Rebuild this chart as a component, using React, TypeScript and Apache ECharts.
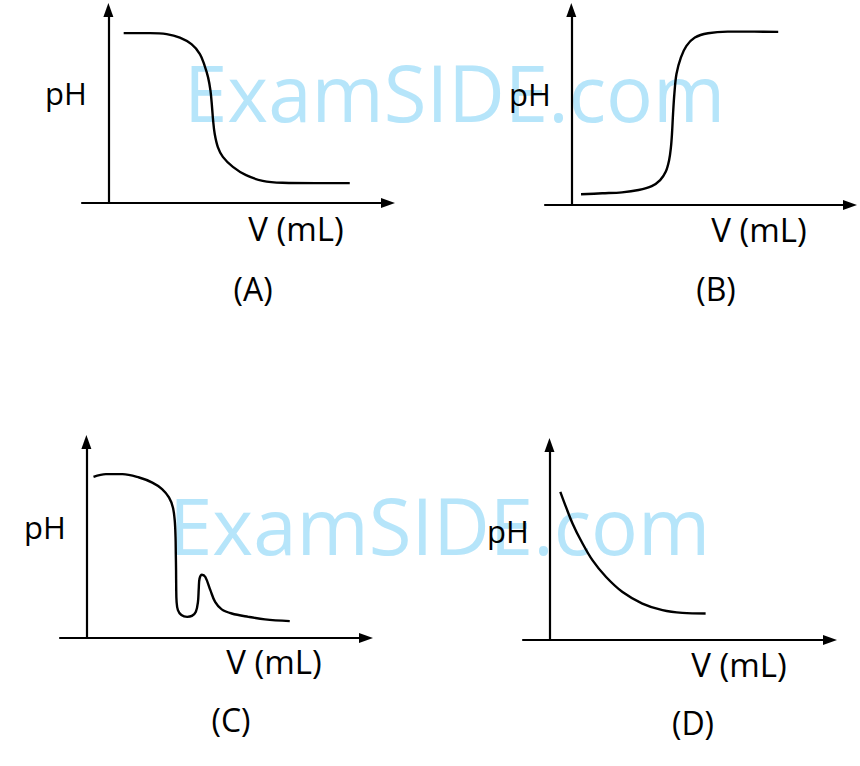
import React, { useEffect, useRef } from "react";
import * as echarts from "echarts";

// Titration curves (arbitrary units: V from 0 along x, pH 0..100 along y)
const curveA: [number, number][] = [
  [5.8, 88.0], [15.8, 88.0], [22.1, 87.5], [27.1, 85.7], [31.5, 82.3], [34.7, 77.2],
  [36.5, 71.1], [37.8, 65.1], [38.7, 58.2], [39.3, 49.6], [39.7, 42.8], [40.3, 35.9],
  [41.5, 29.0], [43.4, 23.9], [47.2, 18.7], [52.2, 14.4], [58.5, 11.5], [66.0, 10.5],
  [78.6, 10.3], [91.5, 10.3],
];
const curveB: [number, number][] = [
  [3.7, 5.5], [11.8, 6.0], [19.3, 6.5], [25.6, 7.7], [30.6, 9.7], [33.8, 12.8],
  [35.9, 17.0], [37.2, 23.0], [37.9, 29.7], [38.3, 36.6], [38.7, 46.8], [39.2, 57.0],
  [40.0, 67.2], [41.7, 75.7], [43.8, 81.6], [47.0, 85.9], [52.0, 88.1], [59.5, 88.9],
  [69.6, 88.9], [78.7, 88.8],
];
const curveC: [number, number][] = [
  [2.7, 82.2], [7.4, 83.6], [13.7, 83.6], [20.0, 81.9], [25.0, 79.3], [28.7, 76.0],
  [31.3, 71.7], [32.8, 66.6], [33.5, 59.9], [33.8, 51.4], [33.9, 43.0], [34.0, 34.5],
  [34.05, 26.0], [34.2, 18.4], [34.7, 14.2], [36.0, 11.7], [38.2, 10.8], [40.0, 11.3],
  [41.5, 13.4], [42.3, 18.4], [42.6, 25.2], [42.9, 30.3], [43.8, 32.3], [45.1, 31.1],
  [47.0, 24.4], [48.8, 18.4], [51.3, 14.6], [55.1, 12.5], [61.4, 10.8], [67.7, 9.5],
  [77.1, 8.6],
];
const curveD: [number, number][] = [
  [4.1, 76.0], [6.3, 68.0], [8.8, 59.5], [11.9, 51.0], [16.3, 40.8], [21.4, 32.3],
  [27.6, 24.6], [35.1, 18.7], [42.7, 15.3], [50.2, 13.9], [59.0, 13.6],
];
const curves = [curveA, curveB, curveC, curveD];

const panelLabels = ["(A)", "(B)", "(C)", "(D)"];
const yAxisLabel = "pH";
const xAxisLabel = "V (mL)";
const watermark = "ExamSIDE.com";

// layout (pixels)
const grids = [
  { left: 82, top: 10, width: 306, height: 193 },
  { left: 545, top: 10, width: 305, height: 195 },
  { left: 60, top: 442, width: 306, height: 196 },
  { left: 523, top: 445, width: 307, height: 195 },
];
const pHPos = [[66, 93], [530, 94], [45, 527], [508, 531]];
const vPos = [[296, 228], [759, 229], [274, 661], [739, 664]];
const panelPos = [[253, 288], [716, 288], [231, 719], [693, 722]];
const watermarkPos = [[184, 92], [169, 525]];

const FONT = "'Open Sans', sans-serif";

export default function App() {
  const ref = useRef<HTMLDivElement>(null);
  useEffect(() => {
    document.body.style.margin = "0";
    const chart = echarts.init(ref.current!, undefined, { renderer: "svg" });
    const axisLine = {
      show: true,
      onZero: true,
      symbol: ["none", "path://M5 0L10 14L0 14Z"],
      symbolSize: [10, 14],
      lineStyle: { color: "#000", width: 2.2 },
    };
    const hidden = {
      axisTick: { show: false },
      axisLabel: { show: false },
      splitLine: { show: false },
    };
    const graphic: any[] = [];
    watermarkPos.forEach(([x, y]) =>
      graphic.push({
        type: "text",
        x,
        y,
        z: -10,
        style: {
          text: watermark,
          fontSize: 78,
          fontFamily: FONT,
          fill: "#b6e5fa",
          textAlign: "left",
          textVerticalAlign: "middle",
        },
      })
    );
    const addText = (t: string, [x, y]: number[], size: number) =>
      graphic.push({
        type: "text",
        x,
        y,
        z: 10,
        style: {
          text: t,
          fontSize: size,
          fontFamily: FONT,
          fill: "#000",
          textAlign: "center",
          textVerticalAlign: "middle",
        },
      });
    for (let i = 0; i < 4; i++) {
      addText(yAxisLabel, pHPos[i], 31);
      addText(xAxisLabel, vPos[i], 33);
      addText(panelLabels[i], panelPos[i], 32);
    }
    chart.setOption({
      animation: false,
      backgroundColor: "#fff",
      grid: grids.map((g) => ({ ...g, containLabel: false })),
      xAxis: grids.map((_, i) => ({
        type: "value",
        gridIndex: i,
        min: -10,
        max: 106,
        axisLine,
        ...hidden,
      })),
      yAxis: grids.map((_, i) => ({
        type: "value",
        gridIndex: i,
        min: 0,
        max: 100,
        axisLine,
        ...hidden,
      })),
      series: curves.map((c, i) => ({
        type: "line",
        xAxisIndex: i,
        yAxisIndex: i,
        data: c,
        smooth: 0.35,
        showSymbol: false,
        z: 5,
        lineStyle: { color: "#000", width: 2.4 },
      })),
      graphic,
    });
    return () => chart.dispose();
  }, []);
  return (
    <div
      ref={ref}
      style={{ position: "absolute", left: 0, top: 0, width: 860, height: 766 }}
    />
  );
}
